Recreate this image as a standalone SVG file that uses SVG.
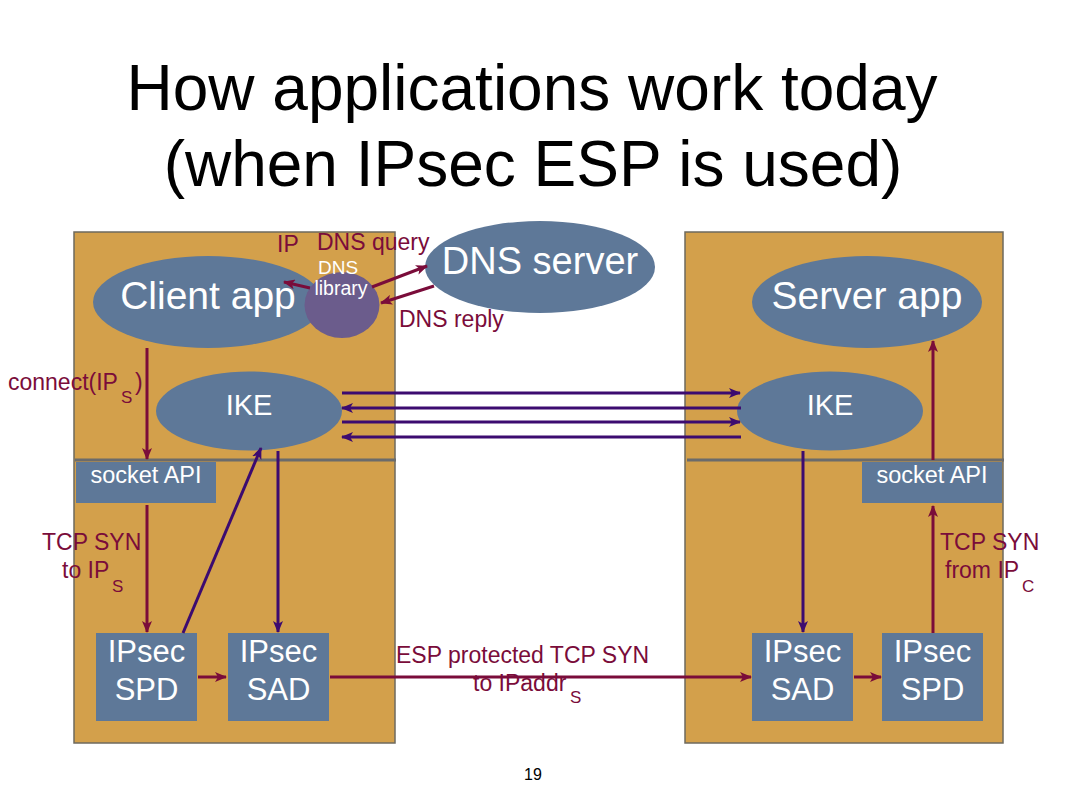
<svg xmlns="http://www.w3.org/2000/svg" width="1066" height="800" viewBox="0 0 1066 800">
<style>
text{font-family:"Liberation Sans",Arial,sans-serif;}
.title{font-size:64px;fill:#000;text-anchor:middle;}
.panel{fill:#D3A04B;stroke:#6E6A5E;stroke-width:1.5;}
.node{fill:#5E7898;}
.lib{fill:#6B5C8C;}
.wt{fill:#fff;text-anchor:middle;}
.lbl{fill:#7A0C3A;font-size:23px;}
.sep{stroke:#6B6B6B;stroke-width:3;}
.m{stroke:#7A0C3A;stroke-width:3;fill:none;marker-end:url(#am);}
.p{stroke:#3C0B70;stroke-width:3;fill:none;marker-end:url(#ap);}
</style>
<defs>
<marker id="am" markerUnits="userSpaceOnUse" markerWidth="12" markerHeight="10" refX="11" refY="5" orient="auto">
<path d="M0,0 L12,5 L0,10 L3,5 z" fill="#7A0C3A"/>
</marker>
<marker id="ap" markerUnits="userSpaceOnUse" markerWidth="12" markerHeight="10" refX="11" refY="5" orient="auto">
<path d="M0,0 L12,5 L0,10 L3,5 z" fill="#3C0B70"/>
</marker>
</defs>
<rect width="1066" height="800" fill="#fff"/>
<g id="title">
<text class="title" x="532" y="110">How applications work today</text>
<text class="title" x="533" y="186">(when IPsec ESP is used)</text>
</g>
<g id="client-host">
<rect class="panel" x="74" y="232" width="321" height="511"/>
<line class="sep" x1="75" y1="460" x2="396" y2="460"/>
</g>
<g id="server-host">
<rect class="panel" x="685" y="232" width="318" height="511"/>
<line class="sep" x1="687" y1="460" x2="1004" y2="460"/>
</g>
<g id="client-app">
<ellipse class="node" cx="208" cy="302" rx="115" ry="46"/>
<text class="wt" x="208" y="309" font-size="39">Client app</text>
</g>
<g id="dns-library">
<ellipse class="lib" cx="342" cy="305" rx="37.5" ry="33"/>
<text class="wt" x="338" y="274" font-size="19">DNS</text>
<text class="wt" x="341" y="295" font-size="19.5">library</text>
</g>
<g id="dns-server">
<ellipse class="node" cx="540" cy="267" rx="115" ry="46"/>
<text class="wt" x="540" y="274" font-size="38">DNS server</text>
</g>
<g id="server-app">
<ellipse class="node" cx="867" cy="302" rx="115" ry="46"/>
<text class="wt" x="867" y="309" font-size="39">Server app</text>
</g>
<g id="ike-client">
<ellipse class="node" cx="249" cy="411" rx="93" ry="39.5"/>
<text class="wt" x="249" y="415" font-size="29">IKE</text>
</g>
<g id="ike-server">
<ellipse class="node" cx="830" cy="411" rx="93" ry="39.5"/>
<text class="wt" x="830" y="415" font-size="29">IKE</text>
</g>
<g id="socket-client">
<rect class="node" x="76" y="462" width="140" height="41"/>
<text class="wt" x="146" y="483" font-size="23.5">socket API</text>
</g>
<g id="socket-server">
<rect class="node" x="862" y="462" width="140" height="41"/>
<text class="wt" x="932" y="483" font-size="23.5">socket API</text>
</g>
<g id="spd-client">
<rect class="node" x="96" y="633" width="101" height="88"/>
<text class="wt" x="146.5" y="662" font-size="31">IPsec</text>
<text class="wt" x="146.5" y="700" font-size="31">SPD</text>
</g>
<g id="sad-client">
<rect class="node" x="228" y="633" width="101" height="88"/>
<text class="wt" x="278.5" y="662" font-size="31">IPsec</text>
<text class="wt" x="278.5" y="700" font-size="31">SAD</text>
</g>
<g id="sad-server">
<rect class="node" x="752" y="633" width="101" height="88"/>
<text class="wt" x="802.5" y="662" font-size="31">IPsec</text>
<text class="wt" x="802.5" y="700" font-size="31">SAD</text>
</g>
<g id="spd-server">
<rect class="node" x="882" y="633" width="101" height="88"/>
<text class="wt" x="932.5" y="662" font-size="31">IPsec</text>
<text class="wt" x="932.5" y="700" font-size="31">SPD</text>
</g>
<g id="connectors">
<path class="m" d="M147,348 L147,459"/>
<path class="m" d="M147,505 L147,632"/>
<path class="p" d="M183,633 L261,448"/>
<path class="p" d="M278,451 L278,632"/>
<path class="m" d="M198,677 L226,677"/>
<path class="m" d="M330,677 L751,677"/>
<path class="m" d="M854,677 L881,677"/>
<path class="m" d="M933,633 L933,506"/>
<path class="m" d="M933,460 L933,341"/>
<path class="p" d="M803,451 L803,632"/>
<path class="p" d="M342,393 L740,393"/>
<path class="p" d="M741,408 L342,408"/>
<path class="p" d="M342,422 L740,422"/>
<path class="p" d="M741,437 L342,437"/>
<path class="m" d="M310,288 L284,282"/>
<path class="m" d="M372,287 L427,266"/>
<path class="m" d="M434,286 L381,303"/>
</g>
<g id="labels">
<text class="lbl" x="277" y="252" font-size="22">IP</text>
<text class="lbl" x="317" y="250">DNS query</text>
<text class="lbl" x="399" y="327" font-size="23.5">DNS reply</text>
<text class="lbl" x="8" y="390" font-size="22.5">connect(IP<tspan x="121" y="403" font-size="17">S</tspan><tspan x="135" y="390">)</tspan></text>
<text class="lbl" x="42" y="550" font-size="23.5">TCP SYN</text>
<text class="lbl" x="62" y="578" font-size="23.5">to IP<tspan x="112" y="592" font-size="17">S</tspan></text>
<text class="lbl" x="940" y="550" font-size="23.5">TCP SYN</text>
<text class="lbl" x="945" y="578" font-size="23.5">from IP<tspan x="1022" y="592" font-size="17">C</tspan></text>
<text class="lbl" x="396" y="663" font-size="25">ESP protected TCP SYN</text>
<text class="lbl" x="473" y="691" font-size="25">to IPaddr<tspan x="570" y="703" font-size="17">S</tspan></text>
</g>
<text x="533" y="780" font-size="16" text-anchor="middle" fill="#000">19</text>
</svg>
